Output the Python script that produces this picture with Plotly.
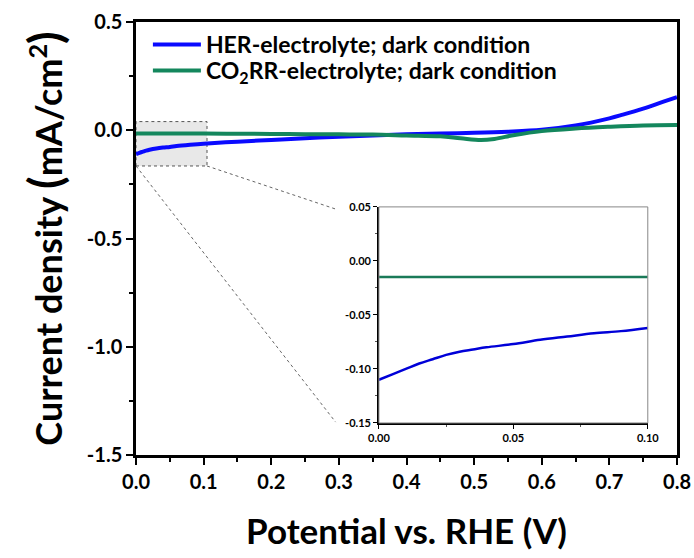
import plotly.graph_objects as go

# ---------------- data ----------------
her_x = [0.00, 0.005, 0.01, 0.015, 0.02, 0.03, 0.04, 0.05, 0.06, 0.08, 0.10, 0.15, 0.20, 0.25, 0.30,
         0.35, 0.40, 0.45, 0.50, 0.55, 0.60, 0.65, 0.70, 0.72, 0.75, 0.78, 0.80]
her_y = [-0.110, -0.104, -0.099, -0.094, -0.090, -0.084, -0.080, -0.077, -0.073, -0.067, -0.062, -0.053,
         -0.045, -0.037, -0.030, -0.024, -0.019, -0.015, -0.012, -0.007, 0.002, 0.022, 0.055, 0.072,
         0.100, 0.132, 0.153]

co2_x = [0.00, 0.05, 0.10, 0.15, 0.20, 0.25, 0.30, 0.35, 0.40, 0.45, 0.48, 0.51, 0.53, 0.56, 0.60,
         0.65, 0.70, 0.75, 0.80]
co2_y = [-0.015, -0.015, -0.015, -0.016, -0.017, -0.018, -0.019, -0.020, -0.024, -0.028, -0.037, -0.045,
         -0.040, -0.022, -0.004, 0.008, 0.016, 0.022, 0.024]

inset_x = [0.00, 0.005, 0.01, 0.015, 0.02, 0.025, 0.03, 0.035, 0.04, 0.05, 0.06, 0.07, 0.08, 0.09, 0.10]
inset_her = [-0.110, -0.105, -0.100, -0.095, -0.091, -0.087, -0.084, -0.082, -0.080, -0.077, -0.073,
             -0.070, -0.067, -0.065, -0.062]
inset_co2 = [-0.015] * len(inset_x)

main_xticks = [0.0, 0.1, 0.2, 0.3, 0.4, 0.5, 0.6, 0.7, 0.8]
main_yticks = [0.5, 0.0, -0.5, -1.0, -1.5]
inset_xticks = [0.00, 0.05, 0.10]
inset_yticks = [0.05, 0.00, -0.05, -0.10, -0.15]

zoom_box = dict(x0=0.0, x1=0.105, y0=-0.165, y1=0.04)

# ---------------- layout constants ----------------
W, H = 694, 558
ml, mr, mt, mb = 136, 17, 22, 103
xr = [0, 0.8]
yr = [-1.5, 0.5]
inset_dom_x = [0.449, 0.946]
inset_dom_y = [0.074, 0.573]
FONT = "Lato"
BLUE = "#0a0aff"
GREEN = "#14875d"

fig = go.Figure()
fig.add_trace(go.Scatter(x=her_x, y=her_y, mode="lines", line=dict(color=BLUE, width=4, shape="spline"),
                         name="HER-electrolyte; dark condition", legend="legend"))
fig.add_trace(go.Scatter(x=co2_x, y=co2_y, mode="lines", line=dict(color=GREEN, width=4, shape="spline"),
                         name="CO<sub>2</sub>RR-electrolyte; dark condition", legend="legend2"))
fig.add_trace(go.Scatter(x=inset_x, y=inset_co2, mode="lines", line=dict(color="#1a7a58", width=2.5),
                         xaxis="x2", yaxis="y2", showlegend=False))
fig.add_trace(go.Scatter(x=inset_x, y=inset_her, mode="lines", line=dict(color="#0000d8", width=2.5, shape="spline"),
                         xaxis="x2", yaxis="y2", showlegend=False))

# zoom box and connectors
fig.add_shape(type="rect", xref="x", yref="y", layer="below", **zoom_box,
              fillcolor="#e8e8e8", line=dict(color="#555", width=1, dash="dot"))

def px(v):
    return (v - xr[0]) / (xr[1] - xr[0])

def py(v):
    return (v - yr[0]) / (yr[1] - yr[0])

conn_x = inset_dom_x[0] - 0.08
for bx, iy in [(zoom_box["x0"], inset_dom_y[0]), (zoom_box["x1"], inset_dom_y[1] - 0.007)]:
    fig.add_shape(type="line", xref="paper", yref="paper", x0=px(bx), y0=py(zoom_box["y0"]),
                  x1=conn_x, y1=iy + 0.002, line=dict(color="#666", width=1, dash="dot"))

# inset frame (grey top/right)
fig.add_shape(type="rect", xref="paper", yref="paper", x0=inset_dom_x[0], x1=inset_dom_x[1],
              y0=inset_dom_y[0], y1=inset_dom_y[1], line=dict(color="#888", width=1))

axis_common = dict(showgrid=False, zeroline=False, linecolor="black", ticks="outside", tickcolor="black",
                   automargin=False)

leg_common = dict(x=0.022, xanchor="left", yanchor="middle", bgcolor="rgba(0,0,0,0)",
                  font=dict(size=23, weight="bold"), itemwidth=48)

fig.update_layout(
    width=W, height=H, margin=dict(l=ml, r=mr, t=mt, b=mb),
    paper_bgcolor="white", plot_bgcolor="white",
    font=dict(family=FONT, color="black"),
    xaxis=dict(range=xr, tickvals=main_xticks, ticktext=[f"{v:.1f}" for v in main_xticks],
               linewidth=2.5, mirror=True, ticklen=7, tickwidth=2,
               minor=dict(ticks="outside", dtick=0.05, ticklen=4, tickwidth=2, tickcolor="black"),
               tickfont=dict(size=20, weight="bold"),
               title=dict(text="<b>Potential vs. RHE (V)</b>", font=dict(size=35), standoff=28),
               **axis_common),
    yaxis=dict(range=yr, tickvals=main_yticks, ticktext=[f"{v:.1f}" for v in main_yticks],
               linewidth=2.5, mirror=True, ticklen=7, tickwidth=2,
               minor=dict(ticks="outside", dtick=0.25, ticklen=4, tickwidth=2, tickcolor="black"),
               tickfont=dict(size=20, weight="bold"),
               title=dict(text="<b>Current density <span style='font-size:46px'>(</span>mA/cm<sup>2</sup><span style='font-size:46px'>)</span></b>",
                          font=dict(size=36), standoff=14),
               **axis_common),
    xaxis2=dict(domain=inset_dom_x, anchor="y2", range=[0, 0.1], tickvals=inset_xticks,
                ticktext=[f"{v:.2f}" for v in inset_xticks], linewidth=1.5, ticklen=4, tickwidth=1,
                minor=dict(ticks="outside", dtick=0.025, ticklen=2, tickwidth=1, tickcolor="#555"),
                tickfont=dict(size=11, weight="bold"), **axis_common),
    yaxis2=dict(domain=inset_dom_y, anchor="x2", range=[-0.15, 0.05], tickvals=inset_yticks,
                ticktext=[f"{v:.2f}" for v in inset_yticks], linewidth=1.5, ticklen=4, tickwidth=1,
                minor=dict(ticks="outside", dtick=0.025, ticklen=2, tickwidth=1, tickcolor="#555"),
                tickfont=dict(size=11, weight="bold"), **axis_common),
    legend=dict(y=0.948, **leg_common),
    legend2=dict(y=0.888, **leg_common),
    showlegend=True,
)

fig.write_html("out.html")
